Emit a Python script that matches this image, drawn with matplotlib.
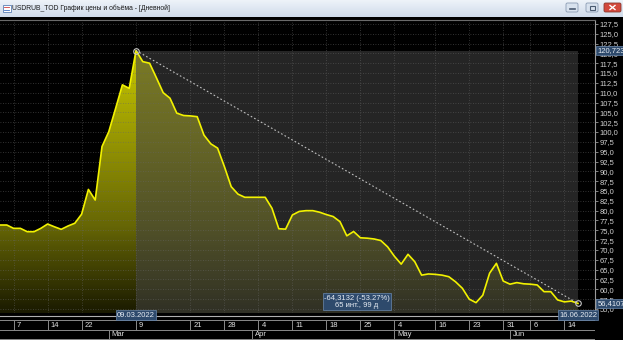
import numpy as np
import matplotlib.pyplot as plt
import matplotlib.patches as mpatches
from matplotlib.colors import LinearSegmentedColormap

plt.rcParams['font.family'] = ['Liberation Sans', 'DejaVu Sans']

# window caption
title = 'USDRUB_TOD График цены и объёма - [Дневной]'

# daily close, one value per trading interval
price = [76.35, 76.35, 75.5, 75.5, 74.65, 74.65, 75.5, 76.6, 75.9, 75.25,
         76.1, 76.8, 79.1, 85.4, 82.7, 96.3, 100.1, 106.0, 112.0, 111.1,
         120.7239, 117.9, 117.5, 113.8, 110.0, 108.6, 104.8, 104.2, 104.1, 103.9,
         99.2, 97.0, 95.9, 91.2, 86.1, 84.2, 83.4, 83.4, 83.4, 83.4,
         80.6, 75.4, 75.3, 78.9, 79.8, 80.0, 80.0, 79.6, 79.0, 78.5,
         77.2, 73.6, 74.7, 73.1, 73.0, 72.8, 72.4, 70.8, 68.4, 66.4,
         68.9, 67.0, 63.6, 63.9, 63.8, 63.6, 63.2, 61.9, 60.25, 57.5,
         56.6, 58.5, 64.1, 66.6, 62.1, 61.3, 61.7, 61.4, 61.3, 61.1,
         59.4, 59.4, 57.3, 56.8, 57.0, 56.4107]

# date scale
day_pos = [2, 7, 12, 20, 28, 33, 38, 43, 48, 53, 58, 64, 69, 74, 78, 83]
day_lab = ['7', '14', '22', '9', '21', '28', '4', '11', '18', '25',
           '4', '16', '23', '31', '6', '14']
month_pos = [16, 37, 58, 75]
month_lab = ['Mar', 'Apr', 'May', 'Jun']

# measurement between two points
i0, i1 = 20, 85
d0, d1 = '09.03.2022', '16.06.2022'
n_days = 99

x = np.arange(len(price))
y = np.array(price)
ymin, ymax = 53.97, 128.49
xmin, xmax = 0, 87.5

W, H = 623, 340
fig = plt.figure(figsize=(W / 100, H / 100), dpi=100, facecolor='black')

ax = fig.add_axes([0, 27 / H, 595 / W, 293 / H])
ax.set_facecolor('black')
ax.set_xlim(xmin, xmax)
ax.set_ylim(ymin, ymax)

# gradient fill under the curve
cmap = LinearSegmentedColormap.from_list(
    'fill', [(0.0, (0.10, 0.10, 0.0)), (0.33, (0.40, 0.40, 0.02)),
             (1.0, (0.78, 0.78, 0.0))])
grad = np.linspace(0, 1, 256).reshape(-1, 1)
im = ax.imshow(grad, cmap=cmap, aspect='auto', origin='lower',
               extent=[x[0], x[-1], ymin, y.max()], zorder=1)
poly = mpatches.Polygon([(x[0], ymin)] + list(zip(x, y)) + [(x[-1], ymin)],
                        closed=True, facecolor='none', edgecolor='none')
ax.add_patch(poly)
im.set_clip_path(poly)

# shaded measurement box
ax.add_patch(mpatches.Rectangle((i0, ymin), i1 - i0, y[i0] - ymin,
                                facecolor=(0.26, 0.26, 0.26), alpha=0.57,
                                edgecolor='none', zorder=1.5))

# grid
ax.set_xticks(day_pos)
ax.set_yticks(np.arange(55, 128, 2.5))
ax.set_axisbelow(False)
ax.grid(True, color=(0.40, 0.40, 0.40), alpha=0.65, lw=0.6,
        linestyle=(0, (1, 2)))

ax.plot(x, y, color='#f2f200', lw=1.2, zorder=3)
ax.plot([i0, i1], [y[i0], y[i1]], color='#c0c0c0', lw=0.8,
        linestyle=(0, (1.5, 2)), zorder=4)
ax.plot([i0, i1], [y[i0], y[i1]], 'o', ms=4, mfc='none', mec='#c8c8c8',
        mew=0.8, zorder=5)

# right price scale
ax.yaxis.tick_right()
ax.set_yticklabels([('%.1f' % v).replace('.', ',') for v in ax.get_yticks()])
ax.tick_params(axis='y', colors='#9a9a9a', labelcolor='#d0d0d0', labelsize=5.5,
               length=2, width=0.6, pad=1.5)
ax.tick_params(axis='x', length=0, labelbottom=False)
for s in ['left', 'bottom']:
    ax.spines[s].set_visible(False)
ax.spines['right'].set_color('#9a9a9a')
ax.spines['top'].set_color('#6a6a6a')
ax.spines['right'].set_linewidth(0.8)
ax.spines['top'].set_linewidth(0.8)

box = dict(boxstyle='square,pad=0.18', fc='#2e4a6c', ec='#6a88ad', lw=0.5)
tr = ax.get_yaxis_transform()
for i in (i0, i1):
    ax.text(1.004, y[i], ('%.4f' % y[i]).replace('.', ','), transform=tr,
            ha='left', va='center', fontsize=5.5, color='#e6ecf3', bbox=box,
            clip_on=False, zorder=10)

chg = y[i1] - y[i0]
pct = chg / y[i0] * 100
txt = '%s (%.2f%%)\n%d инт., %d д' % (('%.4f' % chg).replace('.', ','), pct,
                                     i1 - i0, n_days)
ax.text((i0 + i1) / 2, ymin + 1.0, txt, ha='center', va='bottom', fontsize=5.5,
        color='#e6ecf3', bbox=box, linespacing=1.1, zorder=10)

# date scale below the chart
dax = fig.add_axes([0, 0, 595 / W, 25 / H], sharex=ax)
dax.set_ylim(340, 315)
dax.axis('off')
dax.axhline(315.6, color='#b0b0b0', lw=0.8)
dax.axhline(320.3, color='#8a8a8a', lw=0.7)
dax.axhline(329.6, color='#8a8a8a', lw=0.7)
dax.axhline(339.4, color='#8a8a8a', lw=0.7)
dax.vlines(day_pos, 320.3, 329.6, color='#8a8a8a', lw=0.7)
dax.vlines(month_pos, 329.6, 339.4, color='#8a8a8a', lw=0.7)
for p, l in zip(day_pos, day_lab):
    dax.text(p + 0.45, 325.2, l, fontsize=5.5, color='#e0e0e0',
             ha='left', va='center')
for p, l in zip(month_pos, month_lab):
    dax.text(p + 0.45, 334.6, l, fontsize=5.5, color='#e0e0e0',
             ha='left', va='center')
for i, d in ((i0, d0), (i1, d1)):
    dax.text(i, 315.3, d, fontsize=5.5, color='#e6ecf3', ha='center',
             va='center', bbox=box, clip_on=False, zorder=10)

# window chrome
cx = fig.add_axes([0, 0, 1, 1], zorder=-1)
cx.axis('off')
tb = np.linspace(0, 1, 64).reshape(-1, 1)
cx.imshow(tb, cmap=LinearSegmentedColormap.from_list(
    'tb', ['#eef3f9', '#cfdbea']), aspect='auto', extent=[0, W, 17, 0])
cx.set_xlim(0, W)
cx.set_ylim(H, 0)
cx.add_patch(mpatches.Rectangle((2.5, 4.5), 8, 7, fc='white', ec='#5b7fb5', lw=0.6))
cx.plot([4, 9], [7, 7], color='#d04040', lw=0.6)
cx.plot([4, 9], [9.5, 9.5], color='#4070c0', lw=0.6)
cx.text(12.5, 8.5, title, fontsize=4.9, color='#1a1a1a', ha='left', va='center')
for x0 in (566, 586):
    cx.add_patch(mpatches.FancyBboxPatch((x0, 3), 12, 9,
                 boxstyle='round,pad=0,rounding_size=1.5', fc='#d8e2ee',
                 ec='#8a9bb3', lw=0.6))
cx.plot([569.5, 574.5], [9, 9], color='#4a5a70', lw=1.2)
cx.add_patch(mpatches.Rectangle((589.5, 5.5), 5, 4, fc='none', ec='#4a5a70', lw=0.8))
cx.add_patch(mpatches.FancyBboxPatch((604, 3), 17, 9,
             boxstyle='round,pad=0,rounding_size=1.5', fc='#d2483c',
             ec='#8a3a30', lw=0.6))
cx.plot([610, 615], [5.5, 9.5], color='white', lw=1.0)
cx.plot([610, 615], [9.5, 5.5], color='white', lw=1.0)

fig.savefig('out.png', dpi=100, facecolor='black')
